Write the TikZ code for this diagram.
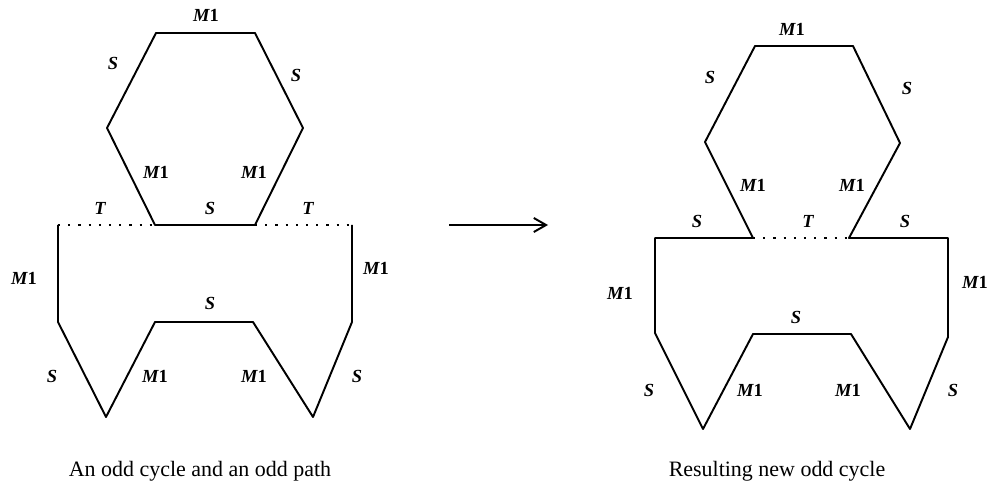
\documentclass[tikz,border=0pt]{standalone}
\usepackage{fontspec}
\setmainfont{Liberation Serif}
\usetikzlibrary{arrows.meta}
\newcommand{\Mone}{{\itshape M}1}

\begin{document}
\begin{tikzpicture}[x=0.02cm,y=-0.02cm,
    edge/.style={line width=1.1pt,line join=round},
    tedge/.style={line width=1.3pt,dash pattern=on 1.3pt off 4.5pt},
    lbl/.style={font=\fontsize{10.5}{12}\selectfont\bfseries,inner sep=0pt},
    caption/.style={font=\fontsize{12.5}{15}\selectfont,inner sep=0pt}
  ]
    \useasboundingbox (0,0) rectangle (989,489);

    % odd cycle and odd path
    \coordinate (a1) at (156,33);
    \coordinate (a2) at (255,33);
    \coordinate (a3) at (303,128);
    \coordinate (a4) at (255,225);
    \coordinate (a5) at (155,225);
    \coordinate (a6) at (107,128);
    \coordinate (p1) at (58,225);
    \coordinate (p2) at (352,225);
    \coordinate (q1) at (58,322);
    \coordinate (q2) at (106,417);
    \coordinate (q3) at (155,322);
    \coordinate (q4) at (253,322);
    \coordinate (q5) at (313,417);
    \coordinate (q6) at (352,322);
    \draw[edge] (a1) -- (a2) -- (a3) -- (a4) -- (a5) -- (a6) -- cycle;
    \draw[tedge] (p1) -- (a5);
    \draw[tedge] (a4) -- (p2);
    \draw[edge] (p1) -- (q1) -- (q2) -- (q3) -- (q4) -- (q5) -- (q6) -- (p2);

    \node[lbl] (lc1) at (206,15) {\Mone};
    \node[lbl] (lc2) at (113,63) {\itshape S};
    \node[lbl] (lc3) at (296,75) {\itshape S};
    \node[lbl] (lc4) at (156,172) {\Mone};
    \node[lbl] (lc5) at (254,172) {\Mone};
    \node[lbl] (lc6) at (210,208) {\itshape S};
    \node[lbl] (lt1) at (100,208) {\itshape T};
    \node[lbl] (lt2) at (308,208) {\itshape T};
    \node[lbl] (lp1) at (24,278) {\Mone};
    \node[lbl] (lp2) at (376,268) {\Mone};
    \node[lbl] (lp3) at (210,303) {\itshape S};
    \node[lbl] (lp4) at (52,376) {\itshape S};
    \node[lbl] (lp5) at (155,376) {\Mone};
    \node[lbl] (lp6) at (254,376) {\Mone};
    \node[lbl] (lp7) at (357,376) {\itshape S};
    \node[caption] (capL) at (200,471) {An odd cycle and an odd path};

    % arrow
    \coordinate (arrS) at (449,225);
    \coordinate (arrE) at (548,225);
    \draw[line width=1.1pt,-{Straight Barb[length=7pt,width=8pt,line width=1.1pt]}] (arrS) -- (arrE);

    % resulting new odd cycle
    \coordinate (b1) at (755,46);
    \coordinate (b2) at (853,46);
    \coordinate (b3) at (900,143);
    \coordinate (b4) at (849,238);
    \coordinate (b5) at (753,238);
    \coordinate (b6) at (705,142);
    \coordinate (r1) at (655,238);
    \coordinate (r2) at (948,238);
    \coordinate (s1) at (655,333);
    \coordinate (s2) at (703,429);
    \coordinate (s3) at (753,334);
    \coordinate (s4) at (851,334);
    \coordinate (s5) at (910,429);
    \coordinate (s6) at (948,337);
    \draw[edge] (b5) -- (b6) -- (b1) -- (b2) -- (b3) -- (b4) -- (r2) -- (s6)
      -- (s5) -- (s4) -- (s3) -- (s2) -- (s1) -- (r1) -- cycle;
    \draw[tedge] (b5) -- (b4);

    \node[lbl] (rc1) at (792,29) {\Mone};
    \node[lbl] (rc2) at (710,77) {\itshape S};
    \node[lbl] (rc3) at (907,88) {\itshape S};
    \node[lbl] (rc4) at (753,185) {\Mone};
    \node[lbl] (rc5) at (852,185) {\Mone};
    \node[lbl] (rs1) at (697,221) {\itshape S};
    \node[lbl] (rt1) at (808,221) {\itshape T};
    \node[lbl] (rs2) at (905,221) {\itshape S};
    \node[lbl] (rp1) at (620,293) {\Mone};
    \node[lbl] (rp2) at (975,282) {\Mone};
    \node[lbl] (rp3) at (796,317) {\itshape S};
    \node[lbl] (rp4) at (649,390) {\itshape S};
    \node[lbl] (rp5) at (750,390) {\Mone};
    \node[lbl] (rp6) at (848,390) {\Mone};
    \node[lbl] (rp7) at (953,390) {\itshape S};
    \node[caption] (capR) at (777,471) {Resulting new odd cycle};
  \end{tikzpicture}
\end{document}
